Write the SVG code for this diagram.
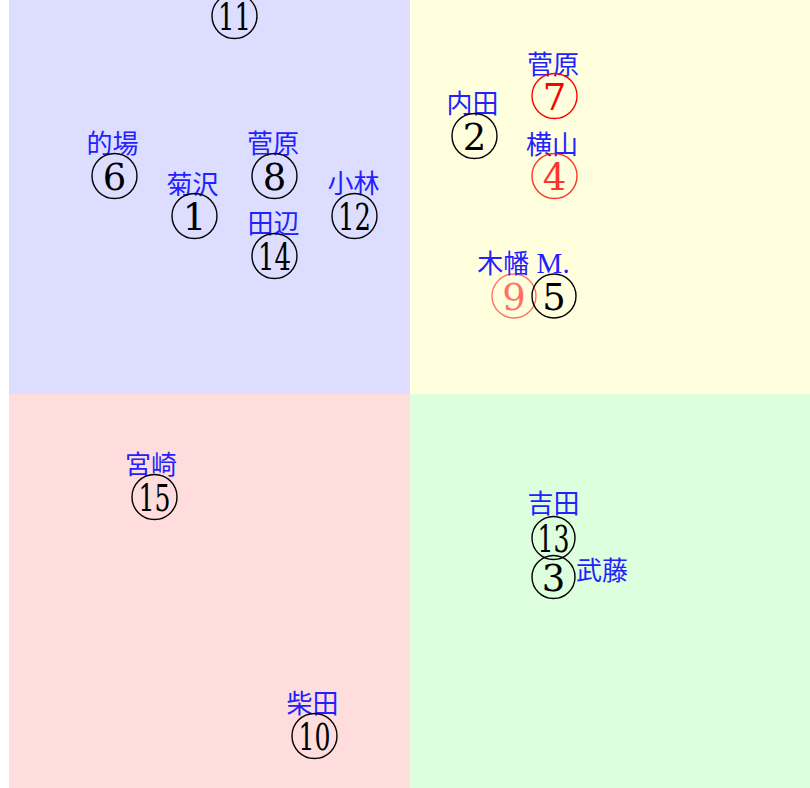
<svg xmlns="http://www.w3.org/2000/svg" width="810" height="788" viewBox="0 0 810 788">
<style>
.q{stroke:none}
.node circle{fill:none;stroke:#000;stroke-width:1.4}
.node text.n{font-family:"DejaVu Serif","Liberation Serif",serif;font-size:37px;text-anchor:middle;fill:#000}
.lbl{font-family:"Liberation Serif","Noto Sans CJK JP",sans-serif;font-size:26px;fill:#2222ff;text-anchor:middle}
.red circle{stroke:#ff0000}
.red text.n{fill:#ff0000}
.red2{opacity:0.8}
.red3{opacity:0.55}
</style>
<rect class="q" x="0" y="0" width="810" height="788" fill="#ffffff"/>
<rect class="q" x="9" y="0" width="401" height="394" fill="#ddddff"/>
<rect class="q" x="410" y="0" width="400" height="394" fill="#ffffdd"/>
<rect class="q" x="9" y="394" width="401" height="394" fill="#ffdddd"/>
<rect class="q" x="410" y="394" width="400" height="394" fill="#ddffdd"/>
<g id="connectors"></g>
<g id="n11" class="node"><circle cx="234.5" cy="16" r="22.5"/><text class="n" x="234.5" y="30" textLength="33" lengthAdjust="spacingAndGlyphs">11</text></g>
<g id="n6" class="node"><text class="lbl" x="112.5" y="153">的場</text><circle cx="114.5" cy="176" r="22.5"/><text class="n" x="114.5" y="190">6</text></g>
<g id="n1" class="node"><text class="lbl" x="192.5" y="194">菊沢</text><circle cx="194.5" cy="216" r="22.5"/><text class="n" x="194.5" y="230">1</text></g>
<g id="n8" class="node"><text class="lbl" x="273" y="153">菅原</text><circle cx="274.5" cy="176" r="22.5"/><text class="n" x="274.5" y="190">8</text></g>
<g id="n12" class="node"><text class="lbl" x="353.5" y="193">小林</text><circle cx="354.5" cy="216" r="22.5"/><text class="n" x="354.5" y="230" textLength="33" lengthAdjust="spacingAndGlyphs">12</text></g>
<g id="n14" class="node"><text class="lbl" x="273.5" y="233">田辺</text><circle cx="274.5" cy="256" r="22.5"/><text class="n" x="274.5" y="270" textLength="33" lengthAdjust="spacingAndGlyphs">14</text></g>
<g id="n2" class="node"><text class="lbl" x="472.5" y="113">内田</text><circle cx="474.5" cy="136" r="22.5"/><text class="n" x="474.5" y="150">2</text></g>
<g id="n7" class="node red"><text class="lbl" x="553" y="74">菅原</text><circle cx="554.5" cy="96" r="22.5"/><text class="n" x="554.5" y="110">7</text></g>
<g id="n4" class="node red"><text class="lbl" x="552" y="154">横山</text><circle class="red2" cx="554.5" cy="176" r="22.5"/><text class="n red2" x="554.5" y="190">4</text></g>
<g id="n9" class="node red"><circle class="red3" cx="514" cy="296" r="22"/><text class="n red3" x="514" y="310">9</text></g>
<g id="n5" class="node"><text class="lbl" x="523.5" y="273">木幡<tspan style="font-size:29px"> M.</tspan></text><circle cx="554" cy="296" r="22"/><text class="n" x="554" y="310">5</text></g>
<g id="n15" class="node"><text class="lbl" x="151" y="474">宮崎</text><circle cx="154.5" cy="497" r="22.5"/><text class="n" x="154.5" y="511" textLength="32" lengthAdjust="spacingAndGlyphs">15</text></g>
<g id="n10" class="node"><text class="lbl" x="312.5" y="713">柴田</text><circle cx="314.5" cy="736" r="22.5"/><text class="n" x="314.5" y="750" textLength="32" lengthAdjust="spacingAndGlyphs">10</text></g>
<g id="n13" class="node"><text class="lbl" x="553.5" y="513">吉田</text><circle cx="553.5" cy="538" r="21.5"/><text class="n" x="553.5" y="552" textLength="32" lengthAdjust="spacingAndGlyphs">13</text></g>
<g id="n3" class="node"><circle cx="553.5" cy="577" r="21.5"/><text class="n" x="553.5" y="591">3</text><text class="lbl" x="576" y="580" style="text-anchor:start">武藤</text></g>
</svg>
